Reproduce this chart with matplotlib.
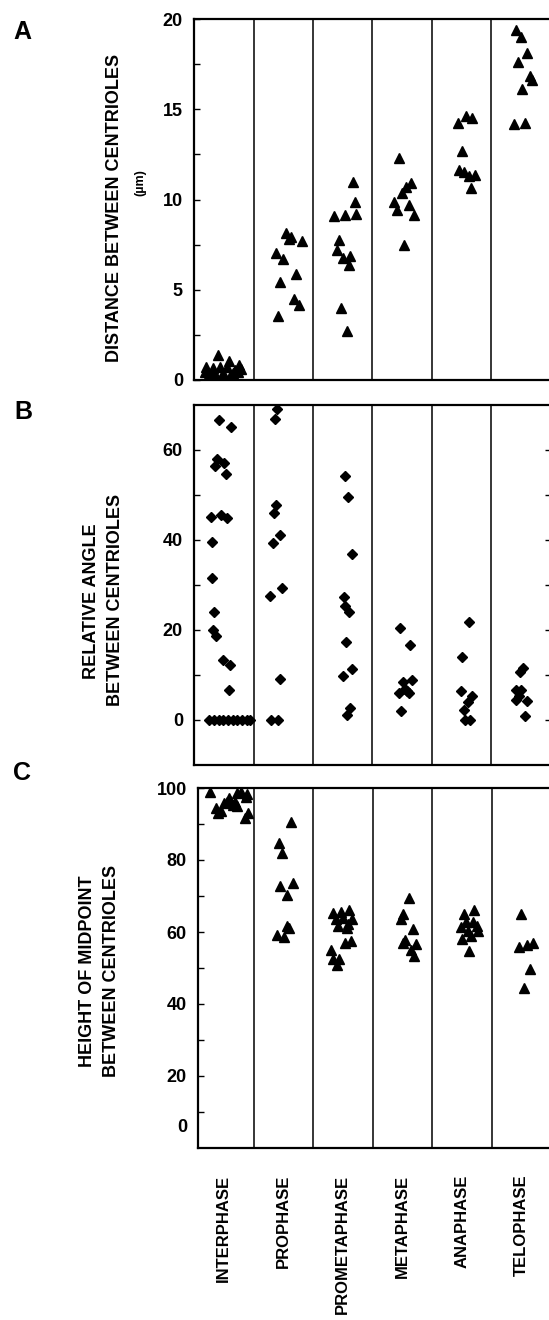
import matplotlib
matplotlib.use('Agg')
import matplotlib.pyplot as plt
from matplotlib.ticker import FixedLocator, FuncFormatter

plt.rcParams['font.family'] = ['Liberation Sans', 'DejaVu Sans']
plt.rcParams['font.weight'] = 'bold'

phases = ["INTERPHASE", "PROPHASE", "PROMETAPHASE", "METAPHASE", "ANAPHASE", "TELOPHASE"]

# ---- Panel A: distance between centrioles (um) ----
dist_vals = [
    [1.39, 1.07, 0.83, 0.70, 0.65, 0.74, 0.70, 0.56, 0.46, 0.37, 0.37, 0.40, 0.46, 0.20, 0.20, 0.15, 0.20, 0.60],
    [8.15, 7.8, 7.9, 7.69, 7.04, 6.7, 5.87, 5.44, 4.48, 4.17, 3.52],
    [10.96, 9.85, 9.07, 9.15, 9.18, 7.78, 7.22, 6.74, 6.85, 6.39, 3.98, 2.74],
    [12.3, 10.93, 10.7, 10.37, 9.85, 9.67, 9.4, 9.15, 7.46],
    [14.26, 14.6, 14.5, 12.67, 11.63, 11.5, 11.3, 11.33, 10.65],
    [19.4, 19.0, 18.1, 17.6, 16.85, 16.6, 16.1, 14.2, 14.26],
]
dist_dx = [
    [-0.09, 0.08, 0.26, -0.29, -0.18, -0.06, 0.05, 0.19, -0.32, -0.20, -0.01, 0.16, 0.24, -0.26, -0.13, -0.03, 0.11, 0.29],
    [0.04, 0.09, 0.13, 0.32, -0.13, 0.0, 0.22, -0.05, 0.18, 0.26, -0.09],
    [0.17, 0.20, -0.14, 0.03, 0.23, -0.06, -0.10, 0.0, 0.13, 0.10, -0.03, 0.07],
    [-0.05, 0.14, 0.06, -0.01, -0.14, 0.11, -0.08, 0.19, 0.03],
    [-0.07, 0.07, 0.18, 0.0, -0.04, 0.04, 0.13, 0.22, 0.16],
    [-0.08, -0.01, 0.10, -0.05, 0.14, 0.18, 0.02, -0.12, 0.07],
]

# ---- Panel B: relative angle between centrioles ----
angle_vals = [
    [66.7, 65.1, 58.0, 56.4, 57.1, 54.7, 45.1, 45.6, 45.0, 39.6, 31.5, 24.1, 20.0, 18.6, 13.4, 12.3, 6.7,
     0, 0, 0, 0, 0, 0, 0, 0, 0, 0],
    [69.1, 67.0, 47.8, 46.0, 41.2, 39.4, 29.3, 27.5, 9.1, 0, 0],
    [54.2, 49.6, 37.0, 27.4, 25.4, 24.1, 17.4, 11.3, 9.85, 2.67, 1.1],
    [20.5, 16.7, 8.5, 9.0, 7.0, 6.1, 6.5, 6.0, 2.1],
    [21.7, 13.9, 6.4, 5.3, 3.9, 2.3, 0, 0],
    [11.6, 10.6, 6.7, 6.7, 4.5, 4.3, 5.3, 0.8],
]
angle_dx = [
    [-0.08, 0.12, -0.12, -0.14, 0.0, 0.03, -0.21, -0.05, 0.06, -0.19, -0.19, -0.16, -0.18, -0.13, -0.02, 0.11, 0.09,
     -0.24, -0.16, -0.08, -0.01, 0.07, 0.15, 0.23, 0.31, 0.39, 0.44],
    [-0.10, -0.14, -0.12, -0.16, -0.06, -0.18, -0.02, -0.22, -0.05, -0.21, -0.08],
    [0.03, 0.09, 0.16, 0.02, 0.04, 0.11, 0.06, 0.16, 0.01, 0.13, 0.07],
    [-0.04, 0.13, 0.01, 0.16, 0.05, -0.06, 0.08, 0.11, -0.02],
    [0.12, 0.0, -0.02, 0.17, 0.10, 0.03, 0.05, 0.14],
    [0.03, -0.02, -0.08, 0.0, -0.08, 0.09, -0.03, 0.07],
]

# ---- Panel C: height of midpoint between centrioles ----
height_vals = [
    [99.0, 98.6, 97.6, 97.2, 96.1, 95.3, 95.8, 94.4, 93.5, 94.9, 93.0, 91.8, 93.0, 96.5, 96.0, 98.8, 98.2],
    [90.5, 84.6, 82.0, 73.7, 72.9, 70.3, 61.8, 61.2, 59.3, 58.6],
    [65.3, 65.5, 66.25, 63.5, 63.9, 63.7, 61.8, 61.2, 62.1, 57.0, 57.4, 55.1, 52.4, 52.6, 50.7],
    [69.5, 64.9, 63.7, 60.9, 57.7, 57.0, 56.8, 55.1, 53.3],
    [66.25, 64.9, 62.7, 62.7, 61.4, 61.8, 60.2, 60.2, 59.0, 58.1, 54.7],
    [65.1, 55.8, 56.5, 57.0, 49.8, 44.5],
]
height_dx = [
    [-0.23, 0.23, 0.37, 0.09, 0.05, 0.15, 0.0, -0.13, -0.05, 0.23, 0.40, 0.36, -0.10, 0.11, 0.19, 0.29, 0.39],
    [0.13, -0.08, -0.02, 0.16, -0.05, 0.07, 0.07, 0.10, -0.10, 0.02],
    [-0.17, -0.03, 0.11, -0.11, 0.0, 0.16, -0.08, 0.07, 0.08, 0.03, 0.14, -0.20, -0.17, -0.07, -0.10],
    [0.11, 0.01, -0.02, 0.18, 0.05, 0.02, 0.23, 0.15, 0.20],
    [0.21, 0.04, 0.07, 0.19, -0.01, 0.25, 0.11, 0.28, 0.16, 0.01, 0.12],
    [0.0, -0.04, 0.09, 0.19, 0.14, 0.05],
]

W, H = 549, 1320
fig = plt.figure(figsize=(W / 100, H / 100), dpi=100)
fig.patch.set_facecolor('white')


def px_axes(left, top, right, bottom):
    return fig.add_axes([left / W, 1 - bottom / H, (right - left) / W, (bottom - top) / H])


def style(ax, xleft):
    ax.set_xlim(xleft, 5.5)
    for s in ax.spines.values():
        s.set_linewidth(1.6)
    for xd in [0.5, 1.5, 2.5, 3.5, 4.5]:
        ax.axvline(xd, color='black', lw=1.1, zorder=1)
    ax.tick_params(axis='y', direction='in', length=4, width=1.0, labelsize=13, pad=8)
    ax.tick_params(axis='x', bottom=False, labelbottom=False)


def scatter(ax, vals, dxs, marker, ms):
    for i, (v, d) in enumerate(zip(vals, dxs)):
        xs = [i + dd for dd in d]
        ax.plot(xs, v, linestyle='none', marker=marker, color='black', markersize=ms, zorder=3)


# Panel A
axA = px_axes(194, 19, 551, 380)
style(axA, -0.5)
axA.set_ylim(0, 20)
axA.yaxis.set_major_locator(FixedLocator([0, 2.5, 5, 7.5, 10, 12.5, 15, 17.5, 20]))
axA.yaxis.set_major_formatter(FuncFormatter(lambda v, p: f"{int(v)}" if v % 5 == 0 else ""))
scatter(axA, dist_vals, dist_dx, '^', 6.5)

# Panel B
axB = px_axes(194, 405, 551, 765)
style(axB, -0.5)
axB.set_ylim(-10, 70)
axB.yaxis.set_major_locator(FixedLocator([0, 10, 20, 30, 40, 50, 60]))
axB.yaxis.set_major_formatter(FuncFormatter(lambda v, p: f"{int(v)}" if v % 20 == 0 else ""))
axB.tick_params(axis='y', right=True)
scatter(axB, angle_vals, angle_dx, 'D', 5)

# Panel C
axC = px_axes(198, 788, 551, 1148)
style(axC, -0.433)
axC.set_ylim(0, 100)
axC.yaxis.set_major_locator(FixedLocator([10, 20, 30, 40, 50, 60, 70, 80, 90, 100]))
axC.yaxis.set_major_formatter(FuncFormatter(lambda v, p: f"{int(v)}" if v % 20 == 0 else ""))
axC.annotate('0', xy=(0, 5.8), xycoords=('axes fraction', 'data'), xytext=(-8, 0),
             textcoords='offset points', ha='right', va='center', fontsize=13, fontweight='bold')
scatter(axC, height_vals, height_dx, '^', 6.5)
axC.set_xticks(range(6))
axC.set_xticklabels(phases, rotation=90, fontsize=12, fontweight='bold')
axC.tick_params(axis='x', bottom=True, labelbottom=True, length=0, pad=19)


def ftext(x, y, s, **kw):
    fig.text(x / W, 1 - y / H, s, **kw)


ftext(22, 32, 'A', fontsize=18, fontweight='bold', ha='center', va='center')
ftext(23, 412, 'B', fontsize=18, fontweight='bold', ha='center', va='center')
ftext(22, 773, 'C', fontsize=18, fontweight='bold', ha='center', va='center')

ftext(115, 208, 'DISTANCE BETWEEN CENTRIOLES', rotation=90, fontsize=13, fontweight='bold', ha='center', va='center')
ftext(140, 183, '(µm)', rotation=90, fontsize=9, fontweight='bold', ha='center', va='center')
ftext(91, 601, 'RELATIVE ANGLE', rotation=90, fontsize=13, fontweight='bold', ha='center', va='center')
ftext(115, 600, 'BETWEEN CENTRIOLES', rotation=90, fontsize=13, fontweight='bold', ha='center', va='center')
ftext(88, 971, 'HEIGHT OF MIDPOINT', rotation=90, fontsize=13, fontweight='bold', ha='center', va='center')
ftext(112, 971, 'BETWEEN CENTRIOLES', rotation=90, fontsize=13, fontweight='bold', ha='center', va='center')

fig.savefig('out.png', dpi=100)
